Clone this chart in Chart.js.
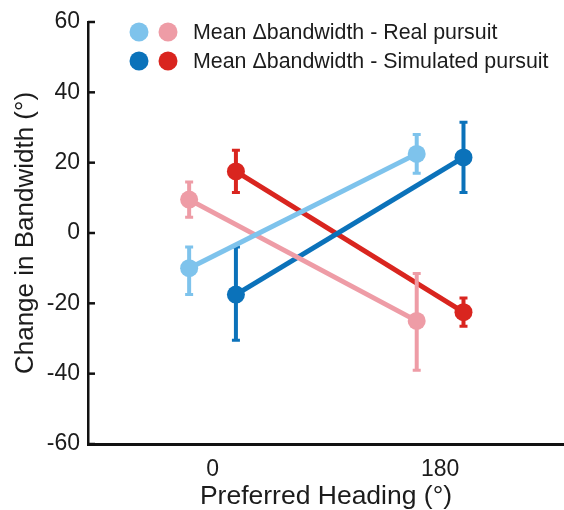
<!DOCTYPE html>
<html>
<head>
<meta charset="utf-8">
<script src="https://cdn.jsdelivr.net/npm/chart.js@4/dist/chart.umd.min.js"></script>
<style>
  html, body { margin: 0; padding: 0; background: #fff; }
  canvas { display: block; }
</style>
</head>
<body>
<canvas id="chart" width="564" height="510"></canvas>
<script>
// preferred heading groups and the tick labels under them
const headings = [0, 180];
const xTickLabels = ['0', '180'];
const yTicks = [-60, -40, -20, 0, 20, 40, 60];

// mean change in bandwidth (deg) with error bar ends, real pursuit
const realBlue = [-10, 22.5];
const realBlueLow = [-17.5, 17];
const realBlueHigh = [-4, 28];
const realRed = [9.5, -25];
const realRedLow = [4.5, -39];
const realRedHigh = [14.5, -11.5];

// same, simulated pursuit
const simBlue = [-17.5, 21.5];
const simBlueLow = [-30.5, 11.5];
const simBlueHigh = [-4, 31.5];
const simRed = [17.5, -22.5];
const simRedLow = [11.5, -26.5];
const simRedHigh = [23.5, -18.5];

const legendLabels = ['Mean \u0394bandwidth - Real pursuit', 'Mean \u0394bandwidth - Simulated pursuit'];

const COLORS = {
  lightBlue: '#7ec3ec',
  darkBlue: '#0b72ba',
  pink: '#ee9ca6',
  red: '#d9251f',
  text: '#1c1c1c',
};
const FONT = "'Liberation Sans', Arial, sans-serif";

// real points sit left of the heading, simulated ones right of it
const SHIFT_REAL = -18.5;
const SHIFT_SIM = 18.5;

function points(values, shift) {
  return values.map((v, i) => ({ x: headings[i] + shift, y: v }));
}

function series(label, values, low, high, shift, color) {
  return {
    label,
    data: points(values, shift),
    errLow: low,
    errHigh: high,
    borderColor: color,
    backgroundColor: color,
    borderWidth: 5,
    pointRadius: 9,
    pointHoverRadius: 9,
    pointBorderWidth: 0,
    tension: 0,
  };
}

// vertical error bars, painted just under their own series
const errorBars = {
  id: 'errorBars',
  beforeDatasetDraw(chart, args) {
    const ds = chart.data.datasets[args.index];
    const y = chart.scales.y;
    const ctx = chart.ctx;
    ctx.save();
    ctx.strokeStyle = ds.borderColor;
    args.meta.data.forEach((pt, i) => {
      const top = y.getPixelForValue(ds.errHigh[i]);
      const bot = y.getPixelForValue(ds.errLow[i]);
      ctx.lineWidth = 4;
      ctx.beginPath();
      ctx.moveTo(pt.x, top);
      ctx.lineTo(pt.x, bot);
      ctx.stroke();
      ctx.lineWidth = 3;
      ctx.beginPath();
      ctx.moveTo(pt.x - 4, top);
      ctx.lineTo(pt.x + 4, top);
      ctx.moveTo(pt.x - 4, bot);
      ctx.lineTo(pt.x + 4, bot);
      ctx.stroke();
    });
    ctx.restore();
  },
};

// short inward tick marks on the y axis
const innerTicks = {
  id: 'innerTicks',
  afterDraw(chart) {
    const y = chart.scales.y;
    const ctx = chart.ctx;
    ctx.save();
    ctx.strokeStyle = '#111';
    ctx.lineWidth = 2.5;
    y.ticks.forEach((t) => {
      const py = y.getPixelForValue(t.value);
      ctx.beginPath();
      ctx.moveTo(y.right, py);
      ctx.lineTo(y.right + 7, py);
      ctx.stroke();
    });
    ctx.restore();
  },
};

// two-dot legend: light pair = real, dark pair = simulated
const pairLegend = {
  id: 'pairLegend',
  afterDraw(chart) {
    const ctx = chart.ctx;
    const rows = [
      { dots: [COLORS.lightBlue, COLORS.pink], y: 32 },
      { dots: [COLORS.darkBlue, COLORS.red], y: 61 },
    ];
    ctx.save();
    rows.forEach((row, r) => {
      row.dots.forEach((c, k) => {
        ctx.fillStyle = c;
        ctx.beginPath();
        ctx.arc(139 + k * 29, row.y, 9.5, 0, Math.PI * 2);
        ctx.fill();
      });
      ctx.fillStyle = COLORS.text;
      ctx.font = '21.4px ' + FONT;
      ctx.textBaseline = 'middle';
      ctx.textAlign = 'left';
      ctx.fillText(legendLabels[r], 193, row.y + 1);
    });
    ctx.restore();
  },
};

new Chart(document.getElementById('chart'), {
  type: 'line',
  data: {
    datasets: [
      series('Real pursuit (blue)', realBlue, realBlueLow, realBlueHigh, SHIFT_REAL, COLORS.lightBlue),
      series('Real pursuit (red)', realRed, realRedLow, realRedHigh, SHIFT_REAL, COLORS.pink),
      series('Simulated pursuit (blue)', simBlue, simBlueLow, simBlueHigh, SHIFT_SIM, COLORS.darkBlue),
      series('Simulated pursuit (red)', simRed, simRedLow, simRedHigh, SHIFT_SIM, COLORS.red),
    ],
  },
  options: {
    responsive: false,
    animation: false,
    layout: { autoPadding: false, padding: { top: 22, left: 0, right: 0, bottom: 0 } },
    plugins: {
      legend: { display: false },
      tooltip: { enabled: false },
    },
    scales: {
      x: {
        type: 'linear',
        min: -98.5,
        max: 278,
        afterBuildTicks: (scale) => {
          scale.ticks = headings.map((v) => ({ value: v }));
        },
        afterFit: (scale) => { scale.height = 66; },
        grid: { drawOnChartArea: false, drawTicks: false },
        border: { color: '#111', width: 3 },
        ticks: {
          padding: 12,
          color: COLORS.text,
          font: { family: FONT, size: 23 },
          maxRotation: 0,
          callback: (v) => xTickLabels[headings.indexOf(v)],
        },
        title: {
          display: true,
          text: 'Preferred Heading (\u00b0)',
          color: COLORS.text,
          font: { family: FONT, size: 26.5, lineHeight: 1 },
          padding: 0,
        },
      },
      y: {
        min: -60,
        max: 60,
        afterBuildTicks: (scale) => {
          scale.ticks = yTicks.map((v) => ({ value: v }));
        },
        afterFit: (scale) => { scale.width = 88; },
        grid: { drawOnChartArea: false, drawTicks: false },
        border: { color: '#111', width: 2.5 },
        ticks: {
          padding: 8,
          color: COLORS.text,
          font: { family: FONT, size: 23 },
        },
        title: {
          display: true,
          text: 'Change in Bandwidth (\u00b0)',
          color: COLORS.text,
          font: { family: FONT, size: 26, lineHeight: 1 },
          padding: { top: 13, bottom: 0 },
        },
      },
    },
  },
  plugins: [errorBars, innerTicks, pairLegend],
});
</script>
</body>
</html>
